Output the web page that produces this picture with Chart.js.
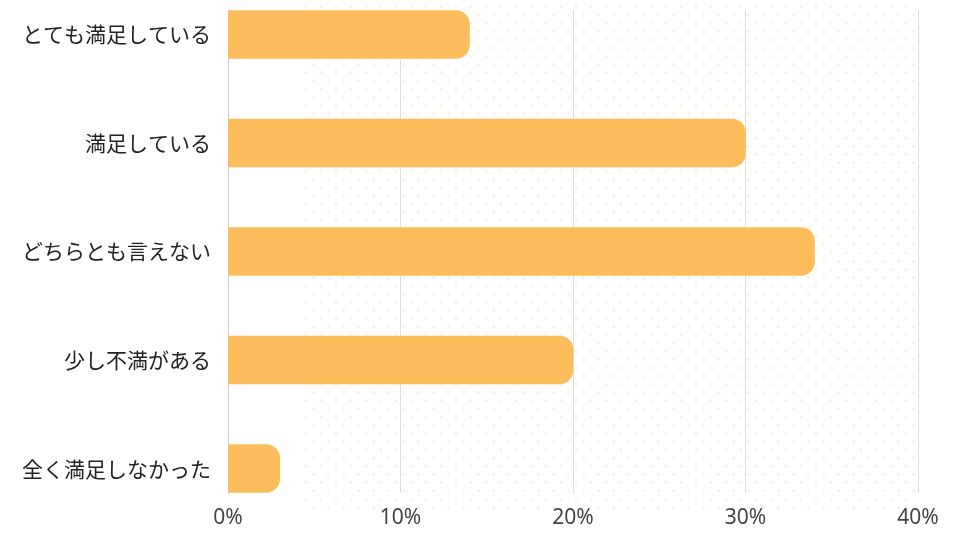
<!DOCTYPE html>
<html lang="ja">
<head>
<meta charset="utf-8">
<title>満足度</title>
<script src="https://cdn.jsdelivr.net/npm/chart.js@4.4.1/dist/chart.umd.min.js"></script>
<style>
  html, body { margin: 0; padding: 0; background: #fff; }
  #wrap { width: 960px; height: 540px; position: relative; }
</style>
</head>
<body>
<div id="wrap"><canvas id="chart"></canvas></div>
<script>
const categories = ["とても満足している", "満足している", "どちらとも言えない", "少し不満がある", "全く満足しなかった"];
const percents = [14, 30, 34, 20, 3];
const xTicks = [0, 10, 20, 30, 40];

// faint dotted backdrop behind the plot
const dotsBackground = {
  id: "dotsBackground",
  beforeDraw(chart) {
    const ctx = chart.ctx;
    ctx.save();
    ctx.fillStyle = "#fdf0e3";
    let row = 0;
    for (let y = 7; y <= 510; y += 8.2) {
      const shift = row % 2 ? 7.5 : 0;
      for (let x = 306 + shift; x <= 916; x += 15) {
        ctx.beginPath();
        ctx.arc(x, y, 1.5, 0, Math.PI * 2);
        ctx.fill();
      }
      row++;
    }
    ctx.restore();
  }
};

const ctx = document.getElementById("chart").getContext("2d");
new Chart(ctx, {
  type: "bar",
  data: {
    datasets: [{
      data: percents.map((v, i) => ({ x: v, y: i })),
      backgroundColor: "#febd5c",
      borderRadius: 14,
      borderSkipped: "start",
      barThickness: 48
    }]
  },
  options: {
    indexAxis: "y",
    responsive: true,
    maintainAspectRatio: false,
    animation: false,
    layout: { padding: { top: 10, right: 42, left: 0, bottom: 0 } },
    plugins: { legend: { display: false }, tooltip: { enabled: false } },
    scales: {
      x: {
        type: "linear",
        min: 0,
        max: 40,
        afterBuildTicks: s => { s.ticks = xTicks.map(v => ({ value: v })); },
        afterFit: s => { s.height = 47; s.paddingLeft = 0; s.paddingRight = 0; },
        grid: { color: "#dedede", drawTicks: false },
        border: { display: false },
        ticks: {
          padding: 12,
          color: "#444",
          font: { family: "'Noto Sans', sans-serif", size: 21 },
          callback: v => v + "%"
        }
      },
      y: {
        type: "linear",
        reverse: true,
        offset: false,
        min: -0.2255,
        max: 4.2255,
        afterBuildTicks: s => { s.ticks = categories.map((_, i) => ({ value: i })); },
        afterFit: s => { s.width = 228; s.paddingTop = 0; s.paddingBottom = 0; },
        grid: { display: false, drawTicks: false, offset: false },
        border: { display: true, color: "#cccccc", width: 1 },
        ticks: {
          padding: 17,
          color: "#222",
          font: { family: "'Noto Sans CJK JP', sans-serif", size: 21 },
          callback: v => categories[v]
        }
      }
    }
  },
  plugins: [dotsBackground]
});
</script>
</body>
</html>
